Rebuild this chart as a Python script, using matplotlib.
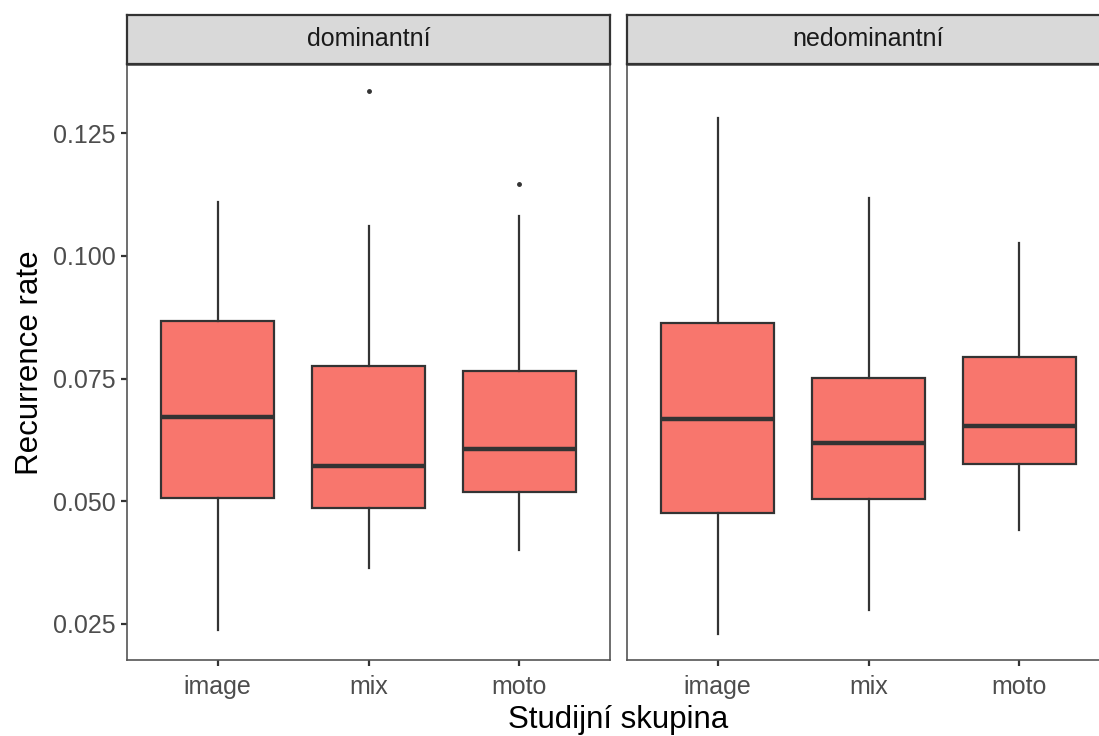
import matplotlib.pyplot as plt

plt.rcParams['font.family'] = ['Liberation Sans', 'DejaVu Sans']

groups = ["dominantní", "nedominantní"]
categories = ["image", "mix", "moto"]

# five-number summaries per panel: whislo, q1, med, q3, whishi
dom_low = [0.0237, 0.0364, 0.0400]
dom_q1 = [0.0506, 0.0486, 0.0519]
dom_med = [0.0671, 0.0572, 0.0606]
dom_q3 = [0.0867, 0.0775, 0.0765]
dom_high = [0.1109, 0.1061, 0.1081]
dom_outliers = [[], [0.1336], [0.1146]]

ned_low = [0.0229, 0.0278, 0.0441]
ned_q1 = [0.0476, 0.0504, 0.0576]
ned_med = [0.0667, 0.0618, 0.0653]
ned_q3 = [0.0863, 0.0751, 0.0794]
ned_high = [0.1281, 0.1118, 0.1026]
ned_outliers = [[], [], []]


def make_stats(low, q1, med, q3, high, fliers):
    stats = []
    for i, cat in enumerate(categories):
        stats.append(dict(label=cat, whislo=low[i], q1=q1[i], med=med[i],
                          q3=q3[i], whishi=high[i], fliers=fliers[i]))
    return stats


panels = [
    make_stats(dom_low, dom_q1, dom_med, dom_q3, dom_high, dom_outliers),
    make_stats(ned_low, ned_q1, ned_med, ned_q3, ned_high, ned_outliers),
]

W, H = 1099, 736
fig = plt.figure(figsize=(W / 100, H / 100), dpi=100)

edge = "#333333"
lefts = [127, 627]
pw = 483
top, bottom = 65, 660

for k, stats in enumerate(panels):
    ax = fig.add_axes([lefts[k] / W, (H - bottom) / H, pw / W, (bottom - top) / H])
    ax.bxp(stats, positions=[1, 2, 3], widths=0.75, patch_artist=True,
           showcaps=False,
           boxprops=dict(facecolor="#F8766D", edgecolor=edge, linewidth=1.6),
           medianprops=dict(color=edge, linewidth=3.2),
           whiskerprops=dict(color=edge, linewidth=1.6),
           flierprops=dict(marker="o", markersize=2.5, markerfacecolor=edge,
                           markeredgecolor=edge))
    ax.set_xlim(0.4, 3.6)
    ax.set_ylim(0.01763, 0.1389)
    ax.set_yticks([0.025, 0.050, 0.075, 0.100, 0.125])
    ax.set_xticks([1, 2, 3])
    ax.set_xticklabels(categories)
    for s in ax.spines.values():
        s.set_color("#555555")
        s.set_linewidth(1.2)
    ax.tick_params(colors="#333333", labelcolor="#4D4D4D", labelsize=18,
                   length=4, width=1.6, pad=4)
    ax.tick_params(axis="x", pad=7)
    if k == 0:
        ax.set_yticklabels(["0.025", "0.050", "0.075", "0.100", "0.125"])
        ax.set_ylabel("Recurrence rate", fontsize=22.5, labelpad=6)
    else:
        ax.tick_params(axis="y", left=False, labelleft=False)

    # facet strip
    sx = fig.add_axes([lefts[k] / W, (H - 64) / H, pw / W, 49 / H])
    sx.set_facecolor("#D9D9D9")
    sx.set_xticks([])
    sx.set_yticks([])
    for s in sx.spines.values():
        s.set_color("#333333")
        s.set_linewidth(1.6)
    sx.text(0.5, 0.5, groups[k], ha="center", va="center", fontsize=18,
            color="#1A1A1A", transform=sx.transAxes)

fig.text(618 / W, 1 - 720 / H, "Studijní skupina", ha="center", va="center",
         fontsize=22.5)

fig.savefig("out.png", dpi=100)
